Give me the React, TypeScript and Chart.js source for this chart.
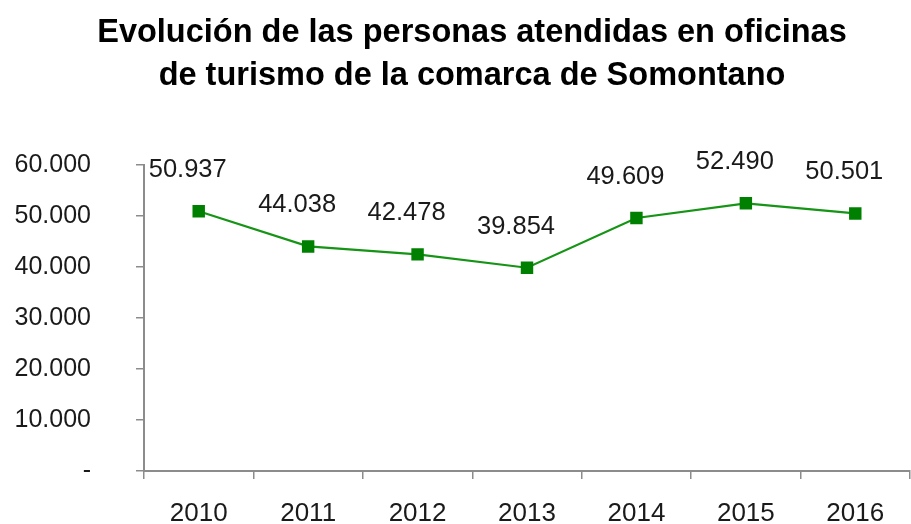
import React, { useEffect, useRef } from "react";
import { Chart, registerables } from "chart.js";

Chart.register(...registerables);

const titleLines = [
  "Evolución de las personas atendidas en oficinas",
  "de turismo de la comarca de Somontano",
];
const years = ["2010", "2011", "2012", "2013", "2014", "2015", "2016"];
const visitors = [50937, 44038, 42478, 39854, 49609, 52490, 50501];
const yTicks = [0, 10000, 20000, 30000, 40000, 50000, 60000];

const FONT = "'Liberation Sans', Arial, sans-serif";
const AXIS = "#8c8c8c";

function fmt(v: number): string {
  if (v === 0) return "-";
  return Math.round(v).toString().replace(/\B(?=(\d{3})+(?!\d))/g, ".");
}

const labelPlugin = {
  id: "valueLabels",
  afterDatasetsDraw(chart: any) {
    const ctx = chart.ctx;
    const meta = chart.getDatasetMeta(0);
    ctx.save();
    ctx.font = `25.5px ${FONT}`;
    ctx.fillStyle = "#1a1a1a";
    ctx.textAlign = "center";
    ctx.textBaseline = "middle";
    meta.data.forEach((pt: any, i: number) => {
      ctx.fillText(fmt(visitors[i]), pt.x - 11, pt.y - 41);
    });
    ctx.restore();
  },
};

const titlePlugin = {
  id: "twoLineTitle",
  afterDraw(chart: any) {
    const ctx = chart.ctx;
    ctx.save();
    ctx.font = `bold 32.5px ${FONT}`;
    ctx.fillStyle = "#000";
    ctx.textAlign = "center";
    ctx.textBaseline = "middle";
    const cx = 472;
    titleLines.forEach((line, i) => {
      ctx.fillText(line, cx, 33 + i * 43);
    });
    ctx.restore();
  },
};

export default function App() {
  const ref = useRef<HTMLCanvasElement>(null);
  useEffect(() => {
    if (!ref.current) return;
    const chart = new Chart(ref.current, {
      type: "line",
      data: {
        labels: years,
        datasets: [
          {
            data: visitors,
            borderColor: "#159415",
            backgroundColor: "#008000",
            borderWidth: 2.2,
            pointStyle: "rect",
            pointRadius: 8.8,
            pointBorderWidth: 0,
            tension: 0,
          },
        ],
      },
      options: {
        animation: false,
        responsive: false,
        layout: { autoPadding: false, padding: { left: 0, right: 1, top: 165, bottom: 0 } },
        plugins: {
          legend: { display: false },
          tooltip: { enabled: false },
          title: { display: false },
        },
        scales: {
          x: {
            offset: true,
            grid: {
              offset: true,
              drawOnChartArea: false,
              drawTicks: true,
              tickLength: 8,
              color: AXIS,
              lineWidth: 1.5,
            },
            border: { display: true, color: AXIS, width: 2 },
            ticks: {
              color: "#1a1a1a",
              font: { family: FONT, size: 26 },
              padding: 19,
              maxRotation: 0,
            },
            afterFit(scale: any) {
              scale.height = 53;
              scale.paddingLeft = 0;
              scale.paddingRight = 0;
            },
          },
          y: {
            min: 0,
            max: 60000,
            afterBuildTicks(scale: any) {
              scale.ticks = yTicks.map((v) => ({ value: v }));
            },
            grid: {
              drawOnChartArea: false,
              drawTicks: true,
              tickLength: 8,
              color: AXIS,
              lineWidth: 1.5,
            },
            border: { display: true, color: AXIS, width: 2 },
            ticks: {
              color: "#1a1a1a",
              font: { family: FONT, size: 25 },
              padding: 45,
              callback: (v: any) => fmt(Number(v)),
            },
            afterFit(scale: any) {
              scale.width = 144;
              scale.paddingTop = 0;
              scale.paddingBottom = 0;
            },
          },
        },
      },
      plugins: [labelPlugin, titlePlugin],
    });
    return () => chart.destroy();
  }, []);
  return (
    <div style={{ position: "fixed", left: 0, top: 0, width: 911, height: 524, background: "#fff" }}>
      <canvas ref={ref} width={911} height={524} style={{ display: "block" }} />
    </div>
  );
}
